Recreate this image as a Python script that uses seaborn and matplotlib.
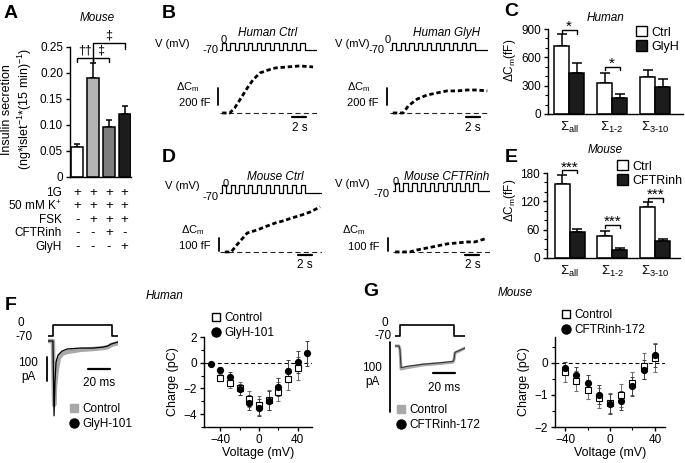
import numpy as np
import pandas as pd
import seaborn as sns
import matplotlib.pyplot as plt
import matplotlib.transforms as mtrans
from matplotlib.lines import Line2D
from matplotlib.patches import Patch
from matplotlib.ticker import MultipleLocator

# ---------------- data ----------------
# A: insulin secretion, mouse islets
a_cond = ['1G', 'FSK', 'FSK+CFTRinh', 'FSK+GlyH']
a_mean = [0.058, 0.191, 0.097, 0.121]
a_err = [0.006, 0.029, 0.012, 0.016]
a_colors = ['white', '#b4b4b4', '#7d7d7d', '#1c1c1c']
a_rows = ['1G', '50 mM K$^{+}$', 'FSK', 'CFTRinh', 'GlyH']
a_signs = [['+', '+', '+', '+'],
           ['+', '+', '+', '+'],
           ['-', '+', '+', '+'],
           ['-', '-', '+', '-'],
           ['-', '-', '-', '+']]

# C / E: summed capacitance increases
sum_groups = ['all', '1-2', '3-10']
sum_ticks = [r'$\Sigma_{\mathrm{all}}$', r'$\Sigma_{\text{1-2}}$', r'$\Sigma_{\text{3-10}}$']
c_ctrl = [723, 333, 390]
c_ctrl_err = [127, 99, 71]
c_glyh = [439, 167, 283]
c_glyh_err = [100, 42, 86]
e_ctrl = [157, 47, 109]
e_ctrl_err = [19, 11, 9]
e_cftr = [56, 18, 37]
e_cftr_err = [6, 3, 3]

# B / D: depolarisation train (s) and capacitance traces (s, fF)
pulse_on = [0.25, 1.5, 2.75, 4.0, 5.25, 6.5, 7.75, 9.0, 10.25, 11.5]
pulse_len = 0.62
hc_t = [0.3, 1.4, 2.1, 3.1, 3.9, 4.7, 5.7, 6.9, 7.9, 9.6, 11.4, 13.3]
hc_c = [0, 0, 59, 189, 295, 389, 472, 507, 531, 543, 555, 543]
hg_t = [0.4, 1.9, 2.6, 3.9, 5.3, 6.7, 8.1, 9.6, 11.0, 12.4, 13.9]
hg_c = [0, 0, 83, 165, 212, 236, 260, 260, 271, 271, 260]
mc_t = [0.7, 1.6, 2.4, 3.9, 5.3, 6.4, 7.9, 9.0, 10.3, 11.7, 12.9, 14.3]
mc_c = [0, 0, 54, 146, 169, 193, 223, 239, 262, 285, 308, 347]
mi_t = [0.3, 2.4, 3.4, 4.9, 6.3, 7.7, 9.1, 10.6, 11.7, 13.1]
mi_c = [0, 0, 15, 31, 46, 62, 69, 77, 77, 100]

# F / G: current traces (ms, pA)
f_step_t = [0, 4.5, 4.5, 58, 58, 63.6]
g_step_t = [0, 4.5, 4.5, 53.6, 53.6, 63.6]
step_v = [-70, -70, 0, 0, -70, -70]
f_ctl_t = [0, 4.5, 5.0, 5.6, 6.5, 8.2, 10, 12.7, 17.3, 29, 41, 50, 54.5, 57.3, 63.6]
f_ctl_i = [0, 0, -145, -272, -187, -115, -72, -55, -47, -38, -34, -30, -26, -17, -9]
f_gly_t = [0, 4.5, 5.0, 5.5, 6.4, 7.3, 9.1, 12.7, 17.3, 29, 41, 50, 54.5, 57.3, 63.6]
f_gly_i = [0, 0, -160, -318, -166, -89, -60, -43, -34, -30, -30, -26, -21, -13, -4]
g_tr_t = [0, 3.6, 4.5, 5.5, 10.9, 25.5, 40.9, 52.7, 53.6, 54.5, 63.6]
g_ctl_i = [0, 0, -5, -33, -31, -27, -25, -23, -20, -10, -3]
g_cftr_i = [0, 0, -5, -31, -29, -26, -24, -22, -19, -9, -3]

# F / G: charge-voltage relations
f_v = [-50, -40, -30, -20, -10, 0, 10, 20, 30, 40, 50]
f_gly = [-0.13, -0.57, -1.09, -2.07, -3.1, -3.49, -2.95, -1.86, -0.62, 0.08, 0.72]
f_gly_err = [0.15, 0.2, 0.35, 0.45, 0.55, 0.65, 0.75, 0.7, 0.8, 0.85, 0.95]
f_ctl_v = [-40, -30, -20, -10, 0, 10, 20, 30, 40]
f_ctl = [-1.16, -1.6, -2.0, -2.82, -3.31, -2.9, -2.25, -1.29, -0.44]
f_ctl_err = [0.25, 0.4, 0.5, 0.6, 0.75, 0.8, 0.75, 0.85, 0.9]
g_v = [-40, -30, -20, -10, 0, 10, 20, 30, 40]
g_cftr = [-0.17, -0.38, -0.63, -1.0, -1.28, -1.18, -0.74, -0.22, 0.23]
g_cftr_err = [0.2, 0.25, 0.25, 0.3, 0.3, 0.3, 0.3, 0.3, 0.35]
g_ctl = [-0.29, -0.57, -0.84, -1.1, -1.25, -1.02, -0.64, -0.11, 0.15]
g_ctl_err = [0.3, 0.3, 0.3, 0.3, 0.3, 0.35, 0.35, 0.4, 0.45]

# ---------------- style ----------------
W, H = 685, 463
sns.set_theme(style='ticks')
plt.rcParams['font.family'] = ['Liberation Sans', 'DejaVu Sans']
plt.rcParams.update({
    'font.size': 8, 'axes.linewidth': 1.0, 'axes.edgecolor': 'black',
    'axes.labelcolor': 'black', 'text.color': 'black',
    'xtick.color': 'black', 'ytick.color': 'black',
    'xtick.labelsize': 8.5, 'ytick.labelsize': 8.5, 'axes.labelsize': 8.5,
    'xtick.major.size': 3, 'ytick.major.size': 3,
    'xtick.minor.size': 2, 'ytick.minor.size': 2,
    'xtick.major.width': 1.0, 'ytick.major.width': 1.0,
    'xtick.minor.width': 0.8, 'ytick.minor.width': 0.8,
    'xtick.major.pad': 2, 'ytick.major.pad': 2,
    'axes.facecolor': 'none',
    'mathtext.fontset': 'custom', 'mathtext.rm': 'Liberation Sans',
    'mathtext.it': 'Liberation Sans:italic', 'mathtext.bf': 'Liberation Sans:bold',
})

fig = plt.figure(figsize=(6.85, 4.63), dpi=100)


def px_ax(x0, y0, x1, y1):
    return fig.add_axes([x0 / W, 1 - y1 / H, (x1 - x0) / W, (y1 - y0) / H])


ov = px_ax(0, 0, W, H)
ov.set_xlim(0, W)
ov.set_ylim(H, 0)
ov.axis('off')
ov.set_zorder(10)


def txt(x, y, s, size=8.5, ha='center', va='center', **kw):
    ov.text(x, y, s, fontsize=size, ha=ha, va=va, **kw)


def add_err(ax, errs, capsize, lw=1.1):
    bars = [b for cont in ax.containers for b in cont]
    xs = [b.get_x() + b.get_width() / 2 for b in bars]
    ys = [b.get_height() for b in bars]
    ax.errorbar(xs, ys, yerr=[np.zeros(len(errs)), errs], fmt='none',
                ecolor='black', elinewidth=lw, capsize=capsize, capthick=lw, zorder=0)


def bracket(ax, x1, x2, y, h, label, size=9, dy=0, h2=None):
    h2 = h if h2 is None else h2
    ax.plot([x1, x1, x2, x2], [y - h, y, y, y - h2], color='black', lw=1.0, clip_on=False)
    ax.text((x1 + x2) / 2, y + dy, label, ha='center', va='bottom', fontsize=size)


def px_legend(ax, handles, labels, x, y, size=8.5, **kw):
    opts = dict(loc='upper left', bbox_to_anchor=(x / W, 1 - y / H),
                bbox_transform=fig.transFigure, frameon=False, borderpad=0,
                borderaxespad=0, handlelength=0.9, handletextpad=0.35,
                labelspacing=0.15, fontsize=size)
    opts.update(kw)
    ax.legend(handles, labels, **opts)


# ---------------- A ----------------
axA = px_ax(70, 47, 131, 177)
dfA = pd.DataFrame({'cond': a_cond, 'mean': a_mean})
sns.barplot(data=dfA, x='cond', y='mean', hue='cond', palette=a_colors, legend=False,
            width=0.75, edgecolor='black', linewidth=1.1, errorbar=None, ax=axA)
add_err(axA, a_err, 2.5)
axA.set_xlim(-0.45, 3.4)
axA.set_ylim(0, 0.25)
axA.set_yticks([0, 0.05, 0.1, 0.15, 0.2, 0.25])
axA.set_yticklabels(['0', '0.05', '0.10', '0.15', '0.20', '0.25'])
axA.set_xticks([])
axA.set_xlabel('')
axA.set_ylabel('Insulin secretion\n(ng*islet$^{-1}$*(15 min)$^{-1}$)', linespacing=1.25,
               fontsize=9)
axA.yaxis.set_label_coords(-0.59, 0.52)
sns.despine(ax=axA)
bracket(axA, 0, 1, 0.229, 0.008, '††', dy=0.002)
bracket(axA, 1, 2, 0.229, 0.008, '‡', dy=0.002)
bracket(axA, 1, 3, 0.258, 0.029, '‡', dy=0.002, h2=0.012)
rowtf = mtrans.blended_transform_factory(axA.transData, ov.transData)
for yy, name, signs in zip([193, 206, 220, 233, 247], a_rows, a_signs):
    txt(62, yy, name, ha='right')
    for i, s in enumerate(signs):
        axA.text(i, yy, s, transform=rowtf, ha='center', va='center', fontsize=9.5)

# ---------------- C / E ----------------
def sum_panel(box, ctrl, ctrl_err, trt, trt_err, trt_name, ymax, major, minor, xlim, lab_y):
    ax = px_ax(*box)
    df = pd.DataFrame({'group': sum_groups * 2,
                       'cond': ['Ctrl'] * 3 + [trt_name] * 3,
                       'val': ctrl + trt})
    sns.barplot(data=df, x='group', y='val', hue='cond', palette=['white', '#1c1c1c'],
                width=0.7, edgecolor='black', linewidth=1.1, errorbar=None,
                legend=False, ax=ax)
    add_err(ax, ctrl_err + trt_err, 3.5)
    ax.set_ylim(0, ymax)
    ax.set_xlim(*xlim)
    ax.yaxis.set_major_locator(MultipleLocator(major))
    ax.yaxis.set_minor_locator(MultipleLocator(minor))
    ax.set_xticks(range(3))
    ax.set_xticklabels(sum_ticks, fontsize=9.5)
    ax.tick_params(axis='x', length=0, pad=4)
    ax.set_xlabel('')
    ax.set_ylabel(r'$\Delta$C$_\mathrm{m}$(fF)')
    ax.yaxis.set_label_coords(-0.22, lab_y)
    sns.despine(ax=ax)
    return ax


axC = sum_panel((548, 29, 683, 114), c_ctrl, c_ctrl_err, c_glyh, c_glyh_err, 'GlyH',
                900, 300, 100, (-0.49, 2.65), 0.63)
bracket(axC, -0.175, 0.175, 885, 35, '*', size=11, dy=-40)
bracket(axC, 0.825, 1.175, 495, 30, '*', size=11, dy=-40)
box_h = [Patch(facecolor='white', edgecolor='black', lw=1.0),
         Patch(facecolor='#1c1c1c', edgecolor='black', lw=1.0)]
px_legend(axC, box_h, ['Ctrl', 'GlyH'], 636, 26, size=9, handleheight=0.9)

axE = sum_panel((547, 173, 680, 258), e_ctrl, e_ctrl_err, e_cftr, e_cftr_err, 'CFTRinh',
                180, 60, 20, (-0.53, 2.58), 0.68)
bracket(axE, -0.175, 0.175, 186, 6, '***', size=11, dy=-9)
bracket(axE, 0.825, 1.175, 70, 6, '***', size=11, dy=-9)
bracket(axE, 1.825, 2.175, 127, 8, '***', size=11, dy=-9)
px_legend(axE, box_h, ['Ctrl', 'CFTRinh'], 617, 160, size=9, handleheight=0.9)

# ---------------- B / D traces ----------------
def pulse_xy(end):
    xs, ys = [0], [-70]
    for t in pulse_on:
        xs += [t, t, t + pulse_len, t + pulse_len]
        ys += [-70, 0, 0, -70]
    return xs + [end], ys + [-70]


def volt_ax(x0, x1, y0, y1, tmax):
    ax = px_ax(x0, y0, x1, y1)
    xs, ys = pulse_xy(tmax)
    ax.plot(xs, ys, color='black', lw=0.9)
    ax.set_xlim(0, tmax)
    ax.set_ylim(-90, 20)
    ax.axis('off')


def cap_ax(x0, x1, y0, y1, tmax, ylim, t, c, sbar_t, sbar_c, tbar_t, tbar_c):
    ax = px_ax(x0, y0, x1, y1)
    ax.plot([0, tmax], [0, 0], color='#222222', lw=0.8, ls=(0, (4.5, 3)))
    ax.plot(t, c, color='black', lw=2.0, ls=(0, (1.6, 1.0)))
    ax.plot([sbar_t, sbar_t], sbar_c, color='black', lw=1.3, clip_on=False)
    ax.plot(tbar_t, [tbar_c, tbar_c], color='black', lw=1.6, clip_on=False)
    ax.set_xlim(0, tmax)
    ax.set_ylim(*ylim)
    ax.axis('off')


volt_ax(220, 317, 41, 52, 13.86)
cap_ax(220, 317, 55, 120, 13.86, (-83, 684), hc_t, hc_c, -0.3, [95, 295], [10.3, 12.3], -47)
volt_ax(390, 488, 41, 52, 14.0)
cap_ax(390, 488, 55, 120, 14.0, (-83, 684), hg_t, hg_c, -0.4, [95, 295], [10.9, 12.9], -47)
volt_ax(220, 322, 183, 195, 14.57)
cap_ax(220, 322, 200, 260, 14.57, (-62, 400), mc_t, mc_c, -0.15, [10, 110], [11.1, 13.1], -23)
volt_ax(393, 490, 181, 193, 13.86)
cap_ax(393, 490, 200, 260, 13.86, (-62, 400), mi_t, mi_c, -0.7, [10, 110], [10.3, 12.3], -23)

dcm = r'$\Delta$C$_\mathrm{m}$'
for vx, vy, lx, ly, zx, zy, title, tx, ty in [
        (155, 44, 211, 50, 224, 40, 'Human Ctrl', 268, 33),
        (335, 44, 377, 50, 388, 40, 'Human GlyH', 447, 33),
        (165, 186, 211, 197, 226, 184, 'Mouse Ctrl', 275, 177),
        (335, 184, 382, 194, 396, 182, 'Mouse CFTRinh', 447, 177)]:
    txt(vx, vy, 'V (mV)', ha='left', size=8)
    txt(lx, ly, '-70', size=8)
    txt(zx, zy, '0', size=8)
    txt(tx, ty, title, style='italic')
for cx, cy, sx, sy, scale, bx, by in [
        (188, 87, 195, 103, '200 fF', 300, 128),
        (359, 87, 363, 103, '200 fF', 473, 128),
        (193, 230, 195, 246, '100 fF', 305, 265),
        (354, 230, 364, 247, '100 fF', 473, 265)]:
    txt(cx, cy, dcm, size=8)
    txt(sx, sy, scale, size=8)
    txt(bx, by, '2 s')

# ---------------- F / G current traces ----------------
def step_ax(x0, x1, step_t):
    ax = px_ax(x0, 322, x1, 339)
    ax.plot(step_t, step_v, color='black', lw=1.2)
    ax.set_xlim(0, 63.6)
    ax.set_ylim(-89, 19)
    ax.axis('off')


step_ax(48, 118, f_step_t)
axFi = px_ax(48, 338, 118, 420)
axFi.plot(f_ctl_t, f_ctl_i, color='#a8a8a8', lw=3.2, solid_joinstyle='round')
axFi.plot(f_gly_t, f_gly_i, color='black', lw=0.9)
axFi.plot([-0.9, -0.9], [-170, -70], color='black', lw=1.3, clip_on=False)
axFi.plot([36.4, 56.4], [-119, -119], color='black', lw=1.6, clip_on=False)
axFi.set_xlim(0, 63.6)
axFi.set_ylim(-336, 12.8)
axFi.axis('off')
trace_h = [Line2D([], [], marker='s', color='#a8a8a8', ls='none', ms=6),
           Line2D([], [], marker='o', color='black', ls='none', ms=6.5)]
px_legend(axFi, trace_h, ['Control', 'GlyH-101'], 69, 403, handlelength=0.8, labelspacing=0.25)

step_ax(395, 465, g_step_t)
axGi = px_ax(395, 338, 465, 420)
axGi.plot(g_tr_t, g_ctl_i, color='#a8a8a8', lw=2.2)
axGi.plot(g_tr_t, g_cftr_i, color='#333333', lw=0.8)
axGi.plot([-4.5, -4.5], [-94, 6], color='black', lw=1.3, clip_on=False)
axGi.plot([34.5, 54.5], [-38.6, -38.6], color='black', lw=1.6, clip_on=False)
axGi.set_xlim(0, 63.6)
axGi.set_ylim(-105.7, 11.4)
axGi.axis('off')
px_legend(axGi, trace_h, ['Control', 'CFTRinh-172'], 396, 404, handlelength=0.8, labelspacing=0.25)

for zx, zy, lx, ly, hx, hy, sx, sy in [
        (21, 323, 24, 337, 28, 370, 99, 383),
        (385, 323, 383, 336, 372, 375, 444, 388)]:
    txt(zx, zy, '0')
    txt(lx, ly, '-70')
    txt(hx, hy, '100\npA', linespacing=1.15)
    txt(sx, sy, '20 ms')

# ---------------- F / G charge-voltage ----------------
def iv_ax(box, xlim, ylim, ymaj, ymin):
    ax = px_ax(*box)
    ax.axhline(0, color='black', lw=0.8, ls=(0, (3.5, 2.5)))
    ax.set_xlim(*xlim)
    ax.set_ylim(*ylim)
    ax.set_xticks([-40, 0, 40])
    ax.xaxis.set_minor_locator(MultipleLocator(20))
    ax.yaxis.set_major_locator(MultipleLocator(ymaj))
    ax.yaxis.set_minor_locator(MultipleLocator(ymin))
    ax.set_xlabel('Voltage (mV)', fontsize=9, labelpad=1)
    ax.set_ylabel('Charge (pC)', fontsize=9, labelpad=3)
    sns.despine(ax=ax)
    return ax


def iv_points(ax, v1, q1, e1, v2, q2, e2):
    ax.errorbar(v1, q1, yerr=e1, fmt='s', mfc='white', mec='black', mew=0.8, ms=3.8,
                ecolor='#707070', elinewidth=0.7, capsize=1.5, capthick=0.7)
    ax.errorbar(v2, q2, yerr=e2, fmt='o', mfc='black', mec='black', ms=4.2,
                ecolor='#404040', elinewidth=0.7, capsize=1.5, capthick=0.7)


axFv = iv_ax((204, 337, 312, 427), (-57, 55), (-5, 2), 2, 1)
iv_points(axFv, f_ctl_v, f_ctl, f_ctl_err, f_v, f_gly, f_gly_err)
iv_h = [Line2D([], [], marker='s', mfc='white', mec='black', mew=1.0, ls='none', ms=6),
        Line2D([], [], marker='o', color='black', ls='none', ms=6.5)]
px_legend(axFv, iv_h, ['Control', 'GlyH-101'], 211, 312, handlelength=0.8, labelspacing=0.25)

axGv = iv_ax((555, 337, 665, 427), (-49, 49), (-2, 0.8), 1, 0.5)
iv_points(axGv, g_v, g_ctl, g_ctl_err, g_v, g_cftr, g_cftr_err)
px_legend(axGv, iv_h, ['Control', 'CFTRinh-172'], 561, 309, handlelength=0.8, labelspacing=0.25)

# ---------------- labels ----------------
for letter, x, y in [('A', 11, 13), ('B', 169, 13), ('C', 511, 11), ('D', 169, 158),
                     ('E', 511, 158), ('F', 11, 306), ('G', 371, 292)]:
    txt(x, y, letter, size=14, weight='bold')
txt(97, 18, 'Mouse', style='italic')
txt(606, 18, 'Human', style='italic')
txt(605, 150, 'Mouse', style='italic')
txt(165, 296, 'Human', style='italic')
txt(515, 293, 'Mouse', style='italic')

fig.savefig('out.png', dpi=100)
